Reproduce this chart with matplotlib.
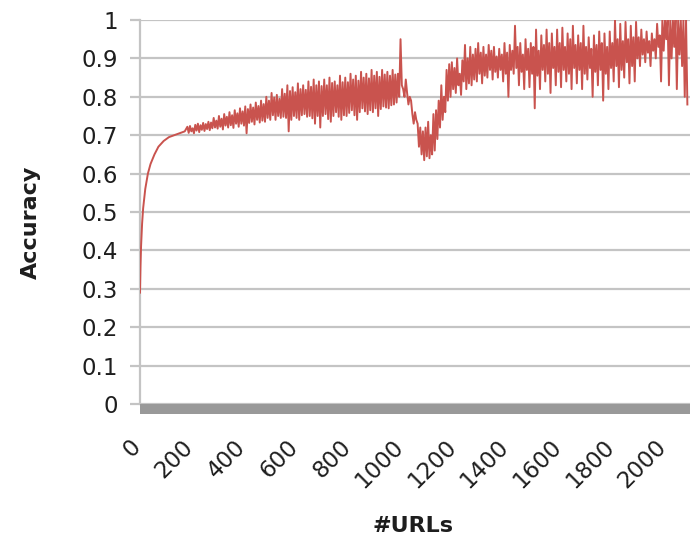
import numpy as np
import matplotlib
matplotlib.use("Agg")
import matplotlib.pyplot as plt
import matplotlib.transforms as mtransforms

# smooth ramp at the start (#URLs, accuracy)
ramp_urls = [0, 2, 4, 8, 12, 20, 30, 40, 55, 70, 90, 110, 130, 150, 170]
ramp_acc = [0.29, 0.36, 0.41, 0.47, 0.51, 0.56, 0.60, 0.625, 0.65, 0.67,
            0.685, 0.695, 0.70, 0.705, 0.71]

# noisy part, one value every 5 URLs from 180 to 2080 (one row = 100 URLs)
noisy_acc = [
    0.722, 0.706, 0.724, 0.71, 0.718, 0.705, 0.727, 0.712, 0.73, 0.708,
    0.726, 0.714, 0.732, 0.711, 0.729, 0.716, 0.735, 0.713, 0.733, 0.718,   # 180
    0.745, 0.72, 0.738, 0.717, 0.75, 0.722, 0.743, 0.715, 0.755, 0.725,
    0.748, 0.72, 0.76, 0.726, 0.752, 0.719, 0.765, 0.73, 0.757, 0.722,      # 280
    0.77, 0.73, 0.762, 0.725, 0.775, 0.705, 0.768, 0.732, 0.78, 0.735,
    0.772, 0.728, 0.785, 0.74, 0.776, 0.733, 0.79, 0.738, 0.781, 0.735,     # 380
    0.80, 0.745, 0.79, 0.74, 0.81, 0.752, 0.798, 0.74, 0.805, 0.75,
    0.795, 0.745, 0.82, 0.748, 0.808, 0.745, 0.83, 0.71, 0.815, 0.74,      # 480
    0.825, 0.75, 0.812, 0.745, 0.835, 0.74, 0.82, 0.752, 0.83, 0.755,
    0.818, 0.748, 0.84, 0.75, 0.826, 0.744, 0.845, 0.73, 0.83, 0.75,       # 580
    0.84, 0.72, 0.828, 0.75, 0.845, 0.755, 0.83, 0.742, 0.85, 0.735,
    0.836, 0.75, 0.84, 0.76, 0.83, 0.748, 0.855, 0.74, 0.838, 0.752,       # 680
    0.85, 0.75, 0.838, 0.758, 0.86, 0.765, 0.845, 0.752, 0.855, 0.74,
    0.842, 0.76, 0.865, 0.77, 0.85, 0.762, 0.86, 0.755, 0.848, 0.765,      # 780
    0.87, 0.76, 0.855, 0.77, 0.865, 0.75, 0.852, 0.768, 0.87, 0.775,
    0.858, 0.772, 0.865, 0.77, 0.855, 0.778, 0.87, 0.78, 0.858, 0.785,     # 880
    0.86, 0.80, 0.95, 0.83, 0.82, 0.80, 0.845, 0.81, 0.78, 0.80,
    0.79, 0.755, 0.73, 0.76, 0.74, 0.73, 0.67, 0.72, 0.65, 0.71,           # 980
    0.635, 0.72, 0.645, 0.735, 0.64, 0.70, 0.65, 0.755, 0.66, 0.765,
    0.69, 0.79, 0.72, 0.83, 0.74, 0.80, 0.76, 0.87, 0.79, 0.885,           # 1080
    0.80, 0.89, 0.82, 0.875, 0.81, 0.90, 0.83, 0.86, 0.805, 0.895,
    0.84, 0.935, 0.82, 0.90, 0.835, 0.93, 0.83, 0.91, 0.845, 0.925,        # 1180
    0.84, 0.94, 0.86, 0.915, 0.835, 0.93, 0.855, 0.91, 0.85, 0.935,
    0.87, 0.92, 0.845, 0.93, 0.865, 0.905, 0.85, 0.925, 0.87, 0.91,        # 1280
    0.84, 0.94, 0.86, 0.915, 0.80, 0.935, 0.87, 0.92, 0.86, 0.985,
    0.875, 0.93, 0.83, 0.94, 0.865, 0.91, 0.82, 0.95, 0.87, 0.925,         # 1380
    0.825, 0.94, 0.86, 0.93, 0.77, 0.975, 0.855, 0.92, 0.82, 0.96,
    0.87, 0.935, 0.84, 0.975, 0.86, 0.94, 0.81, 0.965, 0.875, 0.93,        # 1480
    0.83, 0.975, 0.865, 0.94, 0.825, 0.98, 0.87, 0.93, 0.84, 0.965,
    0.86, 0.95, 0.82, 0.985, 0.875, 0.935, 0.835, 0.96, 0.87, 0.94,        # 1580
    0.82, 0.985, 0.86, 0.93, 0.845, 0.955, 0.875, 0.925, 0.80, 0.96,
    0.865, 0.935, 0.83, 0.97, 0.87, 0.94, 0.79, 0.965, 0.86, 0.93,         # 1680
    0.82, 0.97, 0.875, 0.94, 0.84, 1.0, 0.88, 0.95, 0.825, 0.99,
    0.87, 0.945, 0.85, 0.995, 0.89, 0.95, 0.835, 0.985, 0.88, 0.955,       # 1780
    0.84, 0.995, 0.90, 0.955, 0.88, 0.975, 0.91, 0.95, 0.89, 0.97,
    0.915, 0.945, 0.88, 0.965, 0.92, 0.95, 0.90, 0.99, 0.93, 0.96,         # 1880
    0.84, 1.0, 0.92, 1.0, 0.95, 1.0, 0.83, 1.0, 0.90, 1.0,
    0.93, 1.0, 0.82, 1.0, 0.91, 1.0, 0.88, 1.0, 0.80, 1.0,                 # 1980
    0.78,                                                                  # 2080
]
noisy_urls = np.arange(180, 180 + 5 * len(noisy_acc), 5)

urls = np.concatenate([ramp_urls, noisy_urls])
accuracy = np.concatenate([ramp_acc, noisy_acc])

x_ticks = list(range(0, 2001, 200))
y_ticks = [round(0.1 * i, 1) for i in range(11)]
y_labels = ["0", "0.1", "0.2", "0.3", "0.4", "0.5", "0.6", "0.7", "0.8", "0.9", "1"]

fig = plt.figure(figsize=(6.94, 5.39), dpi=100)
ax = fig.add_axes([140 / 694, 1 - 404 / 539, 550 / 694, 384 / 539])

ax.plot(urls, accuracy, color="#c9534e", lw=1.4, zorder=3)

ax.set_xlim(0, 2090)
ax.set_ylim(0, 1)

# spines first: set_position resets the ticks
for s in ["top", "right"]:
    ax.spines[s].set_visible(False)
ax.spines["left"].set_color("#c4c4c4")
ax.spines["left"].set_linewidth(1.6)
ax.spines["bottom"].set_color("#999999")
ax.spines["bottom"].set_linewidth(7.2)
ax.spines["bottom"].set_capstyle("butt")
ax.spines["bottom"].set_position(("outward", 3.6))

ax.grid(axis="y", color="#c4c4c4", lw=1.6, zorder=0)
ax.set_axisbelow(True)
ax.tick_params(axis="y", length=7, width=1.6, color="#c4c4c4", pad=9,
               labelsize=16.5, labelcolor="#1e1e1e")
ax.tick_params(axis="x", length=0, pad=19, labelsize=16.5,
               labelcolor="#1e1e1e")

ax.set_yticks(y_ticks)
ax.set_yticklabels(y_labels)
ax.set_xticks(x_ticks)
ax.set_xticklabels([str(t) for t in x_ticks], rotation=45, ha="right",
                   va="top")
# nudge the slanted labels a little to the right, like the original
shift = mtransforms.ScaledTranslation(5 / 100, 0, fig.dpi_scale_trans)
for lab in ax.get_xticklabels():
    lab.set_transform(lab.get_transform() + shift)

fig.text(31 / 694, 1 - 222 / 539, "Accuracy", rotation=90, ha="center",
         va="center", fontsize=16, fontweight="bold", color="#1e1e1e")
fig.text(413 / 694, 1 - 526 / 539, "#URLs", ha="center", va="center",
         fontsize=16, fontweight="bold", color="#1e1e1e")

fig.savefig("out.png", dpi=100)
